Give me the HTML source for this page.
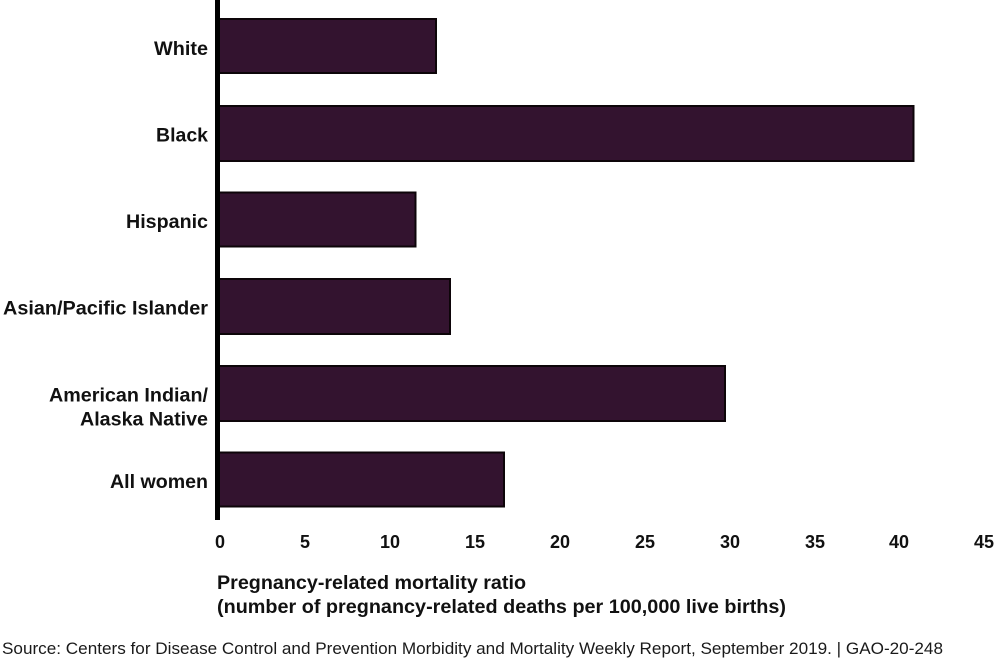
<!DOCTYPE html>
<html>
<head>
<meta charset="utf-8">
<style>
  html, body { margin: 0; padding: 0; background: #ffffff; }
  body { width: 1000px; height: 660px; overflow: hidden; }
  svg { display: block; }
  text { font-family: "Liberation Sans", Arial, sans-serif; fill: #111; }
  .lab { font-weight: bold; font-size: 19px; }
  .tick { font-weight: bold; font-size: 18px; }
  .ttl { font-weight: bold; font-size: 19px; }
  .src { font-size: 17px; fill: #1a1a1a; }
</style>
</head>
<body>
<svg width="1000" height="660" viewBox="0 0 1000 660" xmlns="http://www.w3.org/2000/svg">
  <rect x="0" y="0" width="1000" height="660" fill="#ffffff"/>

  <!-- Bars -->
  <g fill="#33132f" stroke="#0d0509" stroke-width="2">
    <rect x="219" y="19" width="217" height="54"/>
    <rect x="219" y="106" width="694.5" height="55"/>
    <rect x="219" y="192.5" width="196.5" height="54"/>
    <rect x="219" y="279" width="231" height="55"/>
    <rect x="219" y="366" width="506" height="55"/>
    <rect x="219" y="452.5" width="285" height="54"/>
  </g>

  <!-- Axis line -->
  <rect x="215" y="0" width="5" height="520" fill="#000000"/>

  <!-- Category labels -->
  <text class="lab" x="208" y="55" text-anchor="end" textLength="54" lengthAdjust="spacingAndGlyphs">White</text>
  <text class="lab" x="208" y="141.5" text-anchor="end" textLength="52" lengthAdjust="spacingAndGlyphs">Black</text>
  <text class="lab" x="208" y="228" text-anchor="end" textLength="82" lengthAdjust="spacingAndGlyphs">Hispanic</text>
  <text class="lab" x="208" y="314.5" text-anchor="end" textLength="205" lengthAdjust="spacingAndGlyphs">Asian/Pacific Islander</text>
  <text class="lab" x="208" y="401.5" text-anchor="end" textLength="159" lengthAdjust="spacingAndGlyphs">American Indian/</text>
  <text class="lab" x="208" y="425.5" text-anchor="end" textLength="128" lengthAdjust="spacingAndGlyphs">Alaska Native</text>
  <text class="lab" x="208" y="488" text-anchor="end" textLength="98" lengthAdjust="spacingAndGlyphs">All women</text>

  <!-- Tick labels -->
  <g class="tick" text-anchor="middle">
    <text class="tick" x="220" y="548">0</text>
    <text class="tick" x="305" y="548">5</text>
    <text class="tick" x="390" y="548">10</text>
    <text class="tick" x="475" y="548">15</text>
    <text class="tick" x="560" y="548">20</text>
    <text class="tick" x="645" y="548">25</text>
    <text class="tick" x="730" y="548">30</text>
    <text class="tick" x="815" y="548">35</text>
    <text class="tick" x="899" y="548">40</text>
    <text class="tick" x="984" y="548">45</text>
  </g>

  <!-- Axis title -->
  <text class="ttl" x="217" y="589" textLength="309" lengthAdjust="spacingAndGlyphs">Pregnancy-related mortality ratio</text>
  <text class="ttl" x="217" y="613" textLength="569" lengthAdjust="spacingAndGlyphs">(number of pregnancy-related deaths per 100,000 live births)</text>

  <!-- Source -->
  <text class="src" x="2" y="654" textLength="941" lengthAdjust="spacingAndGlyphs">Source: Centers for Disease Control and Prevention Morbidity and Mortality Weekly Report, September 2019.  |  GAO-20-248</text>
</svg>
</body>
</html>
